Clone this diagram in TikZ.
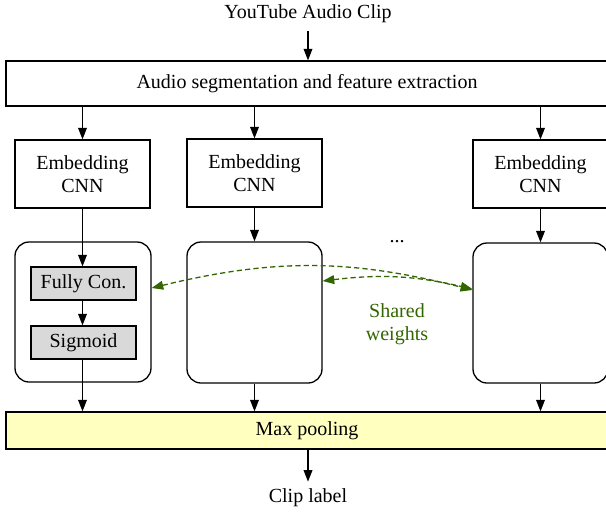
\documentclass[tikz,border=0pt]{standalone}
\usepackage{fontspec}
\setmainfont{Liberation Serif}
\usetikzlibrary{arrows.meta}
\definecolor{sharedgreen}{RGB}{51,102,0}
\definecolor{poolyellow}{RGB}{255,255,192}
\definecolor{layergray}{RGB}{217,217,217}
\begin{document}
\begin{tikzpicture}[x=0.5pt,y=-0.5pt,
  font=\fontsize{10}{11.5}\selectfont, line width=0.65pt,
  >={Triangle[length=5.8pt,width=4.4pt]},
  box/.style={draw, rectangle, inner sep=0pt, align=center},
  widebox/.style={box, minimum width=301pt},
  cnnbox/.style={box, minimum width=67.5pt, minimum height=34pt},
  roundbox/.style={box, rounded corners=7pt, minimum width=67.5pt, minimum height=70pt},
  layerbox/.style={box, fill=layergray, minimum width=52.5pt, minimum height=16.5pt},
  shared/.style={<->, sharedgreen, dash pattern=on 2.6pt off 1.6pt}]
\useasboundingbox (0,0) rectangle (606,511);

\node (title) at (308,14) {YouTube Audio Clip};
\node[widebox, minimum height=22.5pt] (seg) at (307,83.5) {Audio segmentation and feature extraction};

\node[cnnbox] (c1) at (82.5,174) {Embedding\\CNN};
\node[cnnbox] (c2) at (254.5,173) {Embedding\\CNN};
\node[cnnbox] (c3) at (540.5,174) {Embedding\\CNN};

\node[roundbox, minimum width=68pt] (r1) at (83,312) {};
\node[roundbox, minimum height=70.5pt] (r2) at (254.5,312.5) {};
\node[roundbox] (r3) at (540.5,313) {};

\node[layerbox] (fc) at (83.5,283.5) {Fully Con.};
\node[layerbox] (sig) at (83.5,342.5) {Sigmoid};

\node[widebox, fill=poolyellow, minimum height=18.5pt] (pool) at (307,430.5) {Max pooling};
\node (label) at (308,498) {Clip label};

\node (dots) at (397,242) {...};
\node[sharedgreen, align=center] (sw) at (397,324) {Shared\\weights};

\draw[->, shorten <=0.5pt] (title.south) -- (title.south |- seg.north);
\draw[->] (seg.south -| c1.north) -- (c1.north);
\draw[->] (seg.south -| c2.north) -- (c2.north);
\draw[->] (seg.south -| c3.north) -- (c3.north);

\draw[->] (c1.south) -- (c1.south |- fc.north);
\draw[->] (fc.south -| c1.south) -- (sig.north -| c1.south);
\draw[->] (sig.south -| c1.south) -- (c1.south |- pool.north);

\draw[->] (c2.south) -- (c2.south |- r2.north);
\draw[->] (r2.south -| c2.south) -- (c2.south |- pool.north);
\draw[->] (c3.south) -- (c3.south |- r3.north);
\draw[->] (r3.south -| c3.south) -- (c3.south |- pool.north);

\draw[->] (pool.south -| label.north) -- (label.north);

\draw[shared] ([yshift=12pt]r1.east) to[bend left=14] ([yshift=11.5pt]r3.west);
\draw[shared] ([yshift=15.75pt]r2.east) to[bend left=10] ([yshift=12pt]r3.west);
\end{tikzpicture}
\end{document}
